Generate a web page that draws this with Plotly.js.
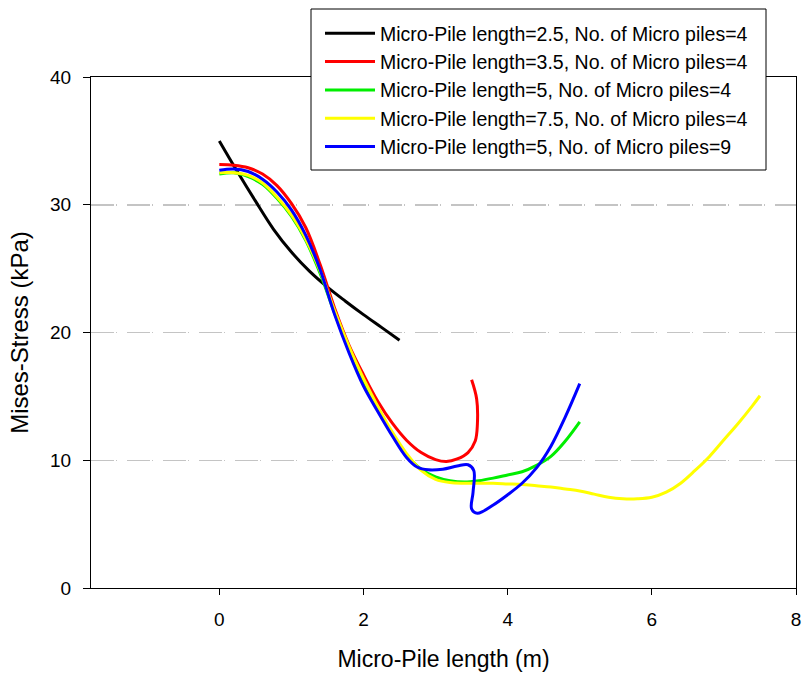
<!DOCTYPE html>
<html><head><meta charset="utf-8">
<script src="https://cdn.plot.ly/plotly-3.0.1.min.js"></script>
<style>html,body{margin:0;padding:0;background:#fff}#chart{width:803px;height:675px}</style>
</head><body><div id="chart"></div>
<script>
const seriesNames = [
  "Micro-Pile length=2.5, No. of Micro piles=4",
  "Micro-Pile length=3.5, No. of Micro piles=4",
  "Micro-Pile length=5, No. of Micro piles=4",
  "Micro-Pile length=7.5, No. of Micro piles=4",
  "Micro-Pile length=5, No. of Micro piles=9"
];
const seriesColors = ["#000000", "#ff0000", "#00ee00", "#ffff00", "#0000ff"];

const blackX = [0, 0.25, 0.5, 0.75, 1.0, 1.25, 1.5, 1.75, 2.0, 2.25, 2.5];
const blackY = [35.0, 32.6, 30.3, 28.1, 26.3, 24.8, 23.55, 22.45, 21.4, 20.4, 19.4];

const redX = [0, 0.2, 0.4, 0.6, 0.8, 1.0, 1.2, 1.4, 1.6, 1.8, 2.0, 2.2, 2.4, 2.6, 2.8, 3.0, 3.15, 3.3, 3.45, 3.55, 3.58, 3.57, 3.5];
const redY = [33.15, 33.1, 32.9, 32.4, 31.5, 30.1, 28.2, 25.3, 21.9, 19.0, 16.7, 14.6, 12.9, 11.55, 10.6, 10.05, 9.9, 10.1, 10.6, 11.5, 12.8, 14.8, 16.3];

const greenX = [0, 0.2, 0.4, 0.6, 0.8, 1.0, 1.2, 1.4, 1.6, 1.8, 2.0, 2.2, 2.4, 2.6, 2.8, 3.0, 3.2, 3.4, 3.6, 3.8, 4.0, 4.2, 4.4, 4.6, 4.8, 5.0];
const greenY = [32.4, 32.5, 32.2, 31.6, 30.5, 29.1, 27.2, 24.6, 21.5, 18.6, 16.1, 14.0, 12.0, 10.4, 9.3, 8.7, 8.4, 8.3, 8.4, 8.6, 8.85, 9.1, 9.6, 10.3, 11.5, 13.0];

const yellowX = [0, 0.2, 0.4, 0.6, 0.8, 1.0, 1.2, 1.4, 1.6, 1.8, 2.0, 2.2, 2.4, 2.6, 2.8, 3.0, 3.2, 3.4, 3.6, 3.8, 4.0, 4.2, 4.4, 4.6, 4.8, 5.0, 5.2, 5.4, 5.6, 5.8, 6.0, 6.2, 6.4, 6.6, 6.8, 7.0, 7.2, 7.4, 7.5];
const yellowY = [32.5, 32.5, 32.3, 31.7, 30.6, 29.2, 27.3, 24.8, 21.7, 18.9, 16.4, 14.2, 12.2, 10.5, 9.2, 8.5, 8.25, 8.2, 8.2, 8.2, 8.15, 8.1, 8.0, 7.9, 7.75, 7.6, 7.35, 7.1, 6.98, 6.98, 7.1, 7.5, 8.2, 9.2, 10.3, 11.6, 12.9, 14.3, 15.05];

const blueX = [0, 0.2, 0.4, 0.6, 0.8, 1.0, 1.2, 1.4, 1.6, 1.8, 2.0, 2.2, 2.4, 2.6, 2.75, 2.9, 3.1, 3.3, 3.45, 3.53, 3.52, 3.5, 3.58, 3.8, 4.0, 4.2, 4.4, 4.6, 4.8, 5.0];
const blueY = [32.7, 32.8, 32.6, 32.0, 31.0, 29.6, 27.6, 24.9, 21.4, 18.4, 15.8, 13.8, 11.9, 10.2, 9.45, 9.25, 9.3, 9.55, 9.65, 9.2, 7.5, 6.2, 5.85, 6.5, 7.3, 8.2, 9.4, 11.1, 13.4, 16.0];

const xTickVals = [0, 2, 4, 6, 8];
const yTickVals = [0, 10, 20, 30, 40];
const xTitle = "Micro-Pile length (m)";
const yTitle = "Mises-Stress (kPa)";

const xs = [blackX, redX, greenX, yellowX, blueX];
const ys = [blackY, redY, greenY, yellowY, blueY];

const traces = xs.map((x, i) => ({
  type: "scatter",
  mode: "lines",
  x: x,
  y: ys[i],
  name: seriesNames[i],
  legendgroup: "g" + i,
  line: {color: seriesColors[i], width: 3, shape: "spline", smoothing: 1}
}));

const FONT = "Liberation Sans, Arial, Helvetica, sans-serif";
const L = 91, R = 796, T = 77, B = 588, W = 803, H = 675;
const px2x = p => (p - L) / (R - L);
const px2y = p => (B - p) / (B - T);

const layout = {
  width: W, height: H,
  margin: {l: L, r: W - R, t: T, b: H - B, pad: 0},
  paper_bgcolor: "#ffffff",
  plot_bgcolor: "#ffffff",
  font: {family: FONT, size: 19, color: "#000"},
  showlegend: true,
  xaxis: {
    range: [-1.78, 8],
    tickvals: xTickVals,
    ticks: "outside", ticklen: 6, tickwidth: 1, tickcolor: "#000",
    showline: true, linecolor: "#000", linewidth: 1, mirror: true,
    showgrid: false, zeroline: false,
    tickfont: {family: FONT, size: 19, color: "#000"},
    ticklabelstandoff: 8,
    title: {text: xTitle, font: {family: FONT, size: 23, color: "#000"}, standoff: 22}
  },
  yaxis: {
    range: [0, 40],
    tickvals: yTickVals,
    ticks: "outside", ticklen: 7, tickwidth: 1, tickcolor: "#000",
    showline: true, linecolor: "#000", linewidth: 1, mirror: true,
    showgrid: true, gridcolor: "#c4c4c4", gridwidth: 1.5, griddash: "23px,2px,1px,10px",
    zeroline: false,
    tickfont: {family: FONT, size: 19, color: "#000"},
    ticklabelstandoff: 8,
    title: {text: yTitle, font: {family: FONT, size: 24, color: "#000"}, standoff: 14}
  },
  shapes: [{
    type: "rect", xref: "paper", yref: "paper",
    x0: px2x(311), x1: px2x(766), y0: px2y(170), y1: px2y(9),
    line: {color: "#000", width: 1}, fillcolor: "#ffffff", layer: "above"
  }],
  legend: {
    x: px2x(320), y: px2y(14), xanchor: "left", yanchor: "top",
    bgcolor: "rgba(0,0,0,0)", borderwidth: 0,
    font: {family: FONT, size: 19.5, color: "#000"},
    tracegroupgap: 0, itemwidth: 50, traceorder: "normal"
  }
};

Plotly.newPlot("chart", traces, layout, {displayModeBar: false, staticPlot: true});
</script>
</body></html>
